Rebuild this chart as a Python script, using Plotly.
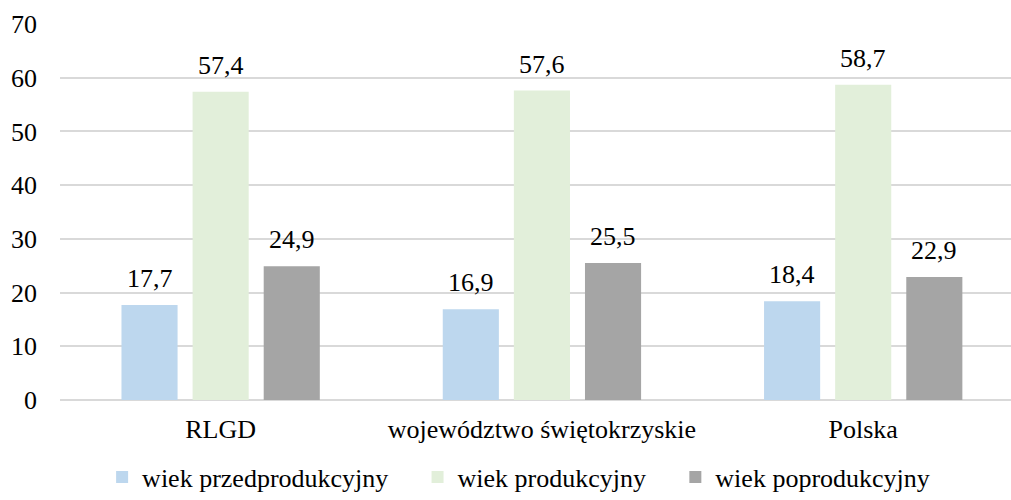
import plotly.graph_objects as go

categories = ["RLGD", "województwo świętokrzyskie", "Polska"]
series_names = ["wiek przedprodukcyjny", "wiek produkcyjny", "wiek poprodukcyjny"]
przed = [17.7, 16.9, 18.4]
prod = [57.4, 57.6, 58.7]
poprod = [24.9, 25.5, 22.9]
colors = ["#BDD7EE", "#E2EFDA", "#A5A5A5"]
y_ticks = [0, 10, 20, 30, 40, 50, 60, 70]

FONT = "Times New Roman"
FS = 26
BARGAP = 0.336
GROUPGAP = 0.211
LEGEND_X = [0.101, 0.413, 0.668]   # left edges of legend entries (container fraction)

series = [przed, prod, poprod]
legend_ids = ["legend", "legend2", "legend3"]
fig = go.Figure()
for name, vals, col, lid in zip(series_names, series, colors, legend_ids):
    fig.add_trace(go.Bar(
        x=categories, y=vals, name=name, legend=lid,
        marker=dict(color=col, line=dict(width=0)),
        hoverinfo="skip",
    ))

# data labels above bars, placed through axis coordinates
n = len(series)
slot = (1 - BARGAP) / n
for i, vals in enumerate(series):
    off = (i - (n - 1) / 2) * slot
    for j, v in enumerate(vals):
        fig.add_annotation(
            x=j + off, y=v, xref="x", yref="y",
            text=f"{v:.1f}".replace(".", ","),
            showarrow=False, yanchor="bottom", yshift=10,
            font=dict(family=FONT, size=FS, color="black"),
        )

legend_common = dict(
    orientation="h", xref="container", yref="container",
    xanchor="left", y=0.046, yanchor="middle",
    font=dict(family=FONT, size=FS, color="black"),
    bgcolor="rgba(0,0,0,0)", borderwidth=0,
    itemclick=False, itemdoubleclick=False,
)

fig.update_layout(
    width=1011, height=500,
    margin=dict(l=60, r=0, t=24, b=100, autoexpand=False),
    paper_bgcolor="white", plot_bgcolor="white",
    barmode="group", bargap=BARGAP, bargroupgap=GROUPGAP,
    font=dict(family=FONT, size=FS, color="black"),
    showlegend=True,
    legend=dict(x=LEGEND_X[0], **legend_common),
    legend2=dict(x=LEGEND_X[1], **legend_common),
    legend3=dict(x=LEGEND_X[2], **legend_common),
)
fig.update_xaxes(
    range=[-0.5, 2.46], showgrid=False, showline=False, ticks="",
    tickfont=dict(family=FONT, size=FS, color="black"),
    ticklabelstandoff=11,
)
fig.update_yaxes(
    range=[0, 70], tickvals=y_ticks, showgrid=True, gridcolor="#D9D9D9",
    gridwidth=1.5, zeroline=True, zerolinecolor="#D9D9D9", zerolinewidth=1.5,
    showline=False, ticks="",
    tickfont=dict(family=FONT, size=FS, color="black"),
    ticklabelstandoff=22,
)

fig.write_html("out.html", config={"displayModeBar": False},
               post_script="document.body.style.margin='0';")
